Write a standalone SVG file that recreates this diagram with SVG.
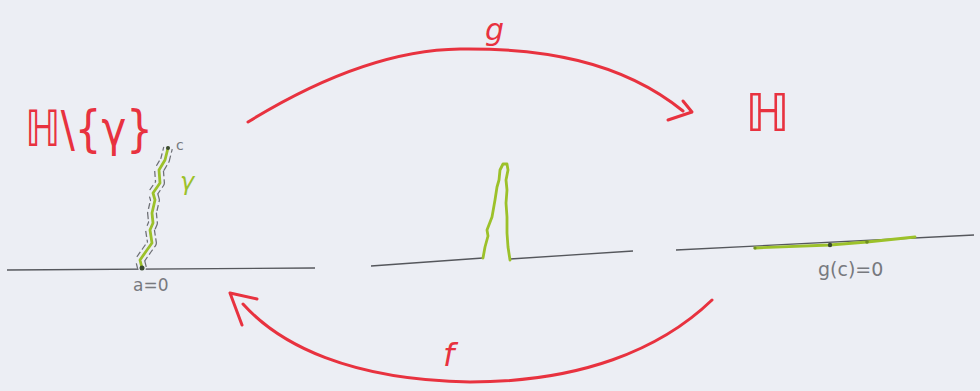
<svg xmlns="http://www.w3.org/2000/svg" width="980" height="391" viewBox="0 0 980 391">
<style>
.red{fill:none;stroke:#e8323f;stroke-width:3;stroke-linecap:round;stroke-linejoin:round}
.axis{fill:none;stroke:#55575c;stroke-width:1.3}
.grn{fill:none;stroke:#9cc12a;stroke-width:2.8;stroke-linecap:round;stroke-linejoin:round}
.lblr{fill:#e8323f;font-family:"DejaVu Sans",sans-serif}
.lblg{fill:#77797e;font-family:"DejaVu Sans",sans-serif}
.dot{fill:#3a4a30}
</style>
<rect width="980" height="391" fill="#eceef4"/>
<g id="left-domain">
<text class="lblr" x="25" y="146" font-size="50" textLength="128" lengthAdjust="spacingAndGlyphs">ℍ\{γ}</text>
<line class="axis" x1="7" y1="270" x2="315" y2="268"/>
<path id="gam" d="M142,268 L140,260 L147,250 L152,243 L150,230 L153,223 L152,213 L155,200 L153,193 L160,183 L159,170 L165,160 L168,148" fill="none" stroke="#6e7075" stroke-width="10" stroke-dasharray="6 3" stroke-linejoin="round"/>
<path d="M142,268 L140,260 L147,250 L152,243 L150,230 L153,223 L152,213 L155,200 L153,193 L160,183 L159,170 L165,160 L168,148" fill="none" stroke="#eceef4" stroke-width="7.5" stroke-linejoin="round" stroke-linecap="round"/>
<path class="grn" d="M142,268 L140,260 L147,250 L152,243 L150,230 L153,223 L152,213 L155,200 L153,193 L160,183 L159,170 L165,160 L168,148"/>
<circle class="dot" cx="142" cy="268" r="2.5"/>
<circle class="dot" cx="168" cy="148" r="2"/>
<text class="lblg" x="176" y="150" font-size="14">c</text>
<text x="180" y="190" font-size="24" font-style="italic" fill="#9cc12a" font-family="DejaVu Sans,sans-serif">γ</text>
<text class="lblg" x="133" y="291" font-size="17">a=0</text>
</g>
<g id="middle">
<path class="axis" d="M371,266 L483,258 M510,259 L633,251"/>
<path class="grn" d="M483,258 L485,247 L488,236 L487,230 L492,217 L495,200 L497,187 L499,180 L500,170 L503,164 L507,164 L508,170 L506,180 L507,190 L506,203 L507,217 L507,233 L508,247 L510,260"/>
</g>
<g id="right-domain">
<text class="lblr" x="745" y="131" font-size="52" textLength="45" lengthAdjust="spacingAndGlyphs">ℍ</text>
<line class="axis" x1="676" y1="250" x2="974" y2="235"/>
<path class="grn" d="M755,248 L830,245 L867,242 L915,237" stroke-width="3.5"/>
<circle class="dot" cx="830" cy="245" r="2.2"/>
<circle cx="867" cy="242" r="1.8" fill="#6f8f20"/>
<circle cx="755" cy="248" r="1.6" fill="#6f8f20"/>
<text class="lblg" x="818" y="276" font-size="19">g(c)=0</text>
</g>
<g id="connectors">
<g id="arrow-g">
<path class="red" d="M248,122 C300,90 380,50 460,49 C540,48 620,60 683,111"/>
<path class="red" d="M683,101 L692,112 L668,120" stroke-width="2.5"/>
<text class="lblr" x="485" y="40" font-size="30" font-style="italic">g</text>
</g>
<g id="arrow-f">
<path class="red" d="M712,300 C660,350 580,382 470,382 C350,380 280,345 243,304"/>
<path class="red" d="M242,325 L230,293 L257,299" stroke-width="2.5"/>
<text class="lblr" x="443" y="366" font-size="32" font-style="italic">f</text>
</g>
</g>
</svg>
